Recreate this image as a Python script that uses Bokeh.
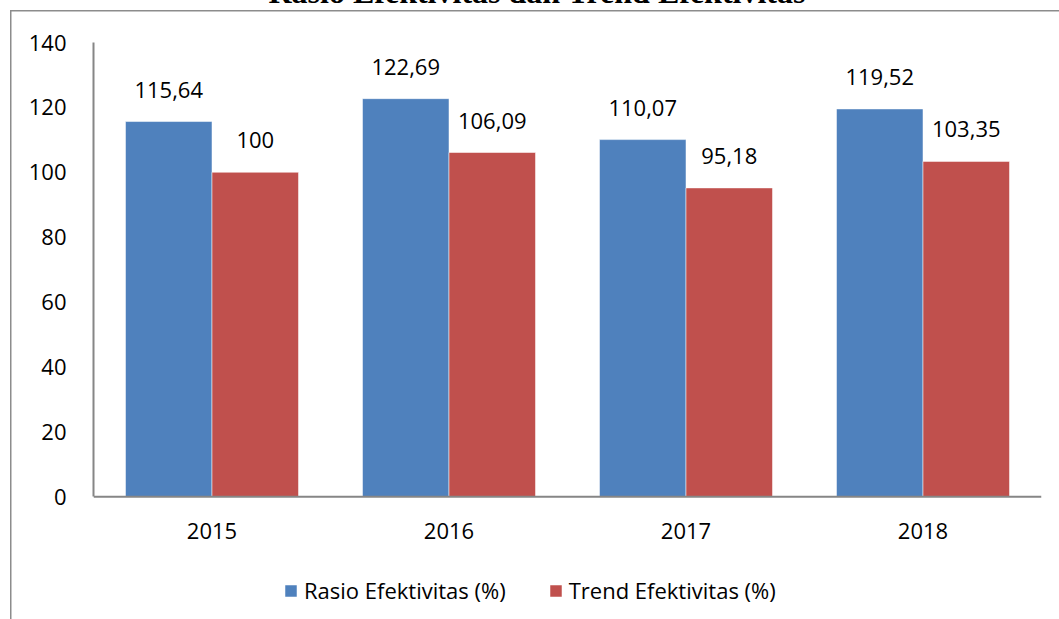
from bokeh.plotting import figure
from bokeh.models import (ColumnDataSource, FactorRange, Range1d, LabelSet, Legend,
                          LegendItem, Title, Span)
from bokeh.transform import dodge
from bokeh.embed import file_html
from bokeh.resources import INLINE
from bokeh.core.properties import value

# ---- data ----
years = ["2015", "2016", "2017", "2018"]
rasio = [115.64, 122.69, 110.07, 119.52]
trend = [100, 106.09, 95.18, 103.35]
rasio_labels = ["115,64", "122,69", "110,07", "119,52"]
trend_labels = ["100", "106,09", "95,18", "103,35"]
y_ticks = [0, 20, 40, 60, 80, 100, 120, 140]
series_names = ["Rasio Efektivitas (%)", "Trend Efektivitas (%)"]
title_text = "Rasio Efektivitas dan Trend Efektivitas"

# ---- style / layout ----
BLUE = "#4F81BD"
RED = "#C0504D"
AXIS = "#868686"
BORDER = "#8c8c8c"
FONT = "Open Sans"
FS = "22px"
SHIFT = 61                      # figure starts this far above the window (title is cut off)
W, H = 1059, 619 + SHIFT
ML, MR, MT = 93, 18, 41 + SHIFT
Y_MIN = -37.85                  # plot area continues below the value axis to hold labels and legend
Y_MAX = 140
BAR_W = 0.365
OFF = 0.1825


def line_bg(x, y, w, h):
    return f"linear-gradient({BORDER},{BORDER}) {x}px {y}px / {w} {h} no-repeat"


src = ColumnDataSource(dict(year=years, rasio=rasio, trend=trend,
                            rl=rasio_labels, tl=trend_labels, zero=[0] * len(years)))

p = figure(x_range=FactorRange(*years), y_range=Range1d(Y_MIN, Y_MAX),
           width=W, height=H, output_backend="svg", toolbar_location=None,
           x_axis_location=None,
           min_border_left=ML, min_border_right=MR, min_border_top=MT,
           min_border_bottom=0)
p.outline_line_color = None
p.xgrid.visible = False
p.ygrid.visible = False
p.background_fill_alpha = 0
p.border_fill_alpha = 0
p.styles = {
    "margin-top": f"-{SHIFT}px",
    "background": ", ".join([line_bg(10, 10 + SHIFT, "1.5px", "100%"),
                             line_bg(10, 10 + SHIFT, "100%", "1.5px"),
                             "#ffffff"]),
}

p.title = Title(text=title_text, align="left", offset=175, standoff=65,
                text_font="Liberation Serif", text_font_style="bold",
                text_font_size="32px", text_color="black")

r1 = p.vbar(x=dodge("year", -OFF, range=p.x_range), top="rasio", width=BAR_W,
            source=src, fill_color=BLUE, line_color="white", line_alpha=0.5)
r2 = p.vbar(x=dodge("year", OFF, range=p.x_range), top="trend", width=BAR_W,
            source=src, fill_color=RED, line_color="white", line_alpha=0.5)

# value labels
for col, txt, off in (("rasio", "rl", -OFF), ("trend", "tl", OFF)):
    p.add_layout(LabelSet(x=dodge("year", off, range=p.x_range), y=col, text=txt,
                          source=src, y_offset=32, text_align="center",
                          text_baseline="middle", text_font=value(FONT),
                          text_font_size=value(FS), text_color="black"))

# category axis: line at value 0 and the year labels under it
p.add_layout(Span(location=0, dimension="width", line_color=AXIS, line_width=2))
p.add_layout(LabelSet(x="year", y="zero", text="year", source=src, y_offset=-34,
                      text_align="center", text_baseline="middle",
                      text_font=value(FONT), text_font_size=value(FS),
                      text_color="black"))

# value axis
p.yaxis.ticker = y_ticks
p.yaxis.bounds = (0, Y_MAX)
p.yaxis.major_tick_line_color = None
p.yaxis.minor_tick_line_color = None
p.yaxis.major_tick_out = 0
p.yaxis.major_tick_in = 0
p.yaxis.minor_tick_out = 0
p.yaxis.axis_line_color = AXIS
p.yaxis.axis_line_width = 2
p.yaxis.major_label_text_font = FONT
p.yaxis.major_label_text_font_size = FS
p.yaxis.major_label_text_color = "black"
p.yaxis.major_label_standoff = 27

legend = Legend(items=[LegendItem(label=series_names[0], renderers=[r1]),
                       LegendItem(label=series_names[1], renderers=[r2])],
                orientation="horizontal", location=(190, 14),
                padding=0, margin=0, spacing=42, label_standoff=6,
                glyph_width=15, glyph_height=15,
                label_text_font=FONT, label_text_font_size=FS,
                label_text_color="black",
                border_line_color=None, background_fill_alpha=0)
p.add_layout(legend, "center")

open("out.html", "w").write(file_html(p, INLINE))
